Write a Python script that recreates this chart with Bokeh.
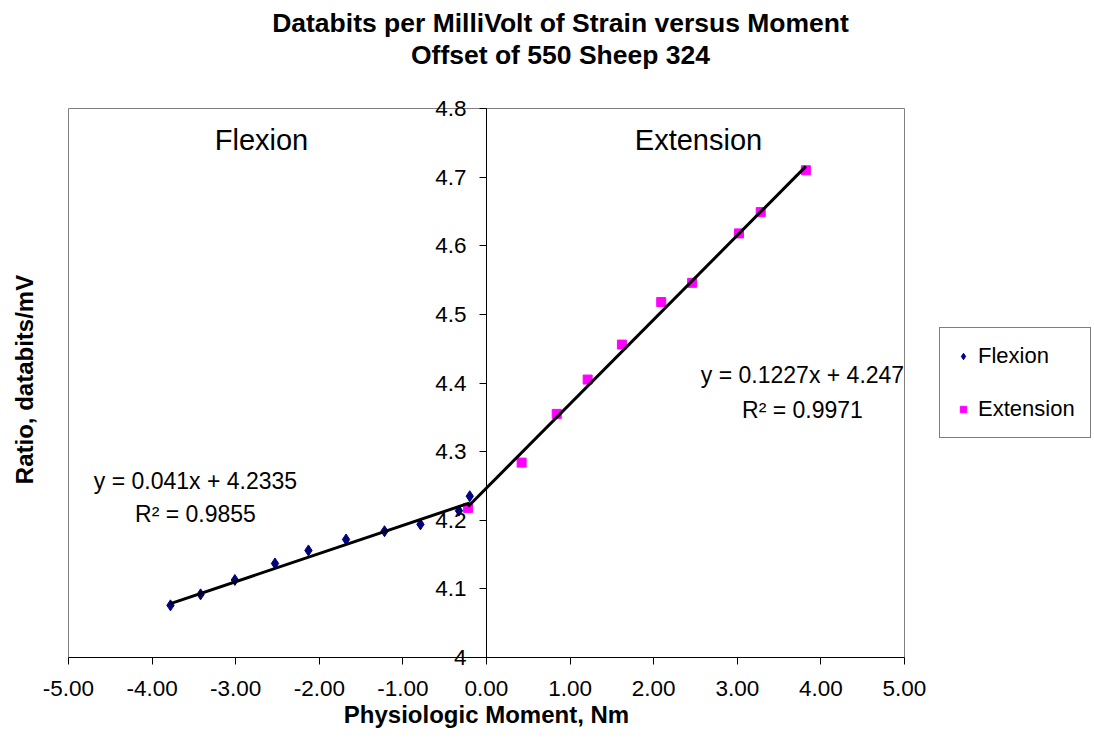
import math
from bokeh.plotting import figure
from bokeh.models import (Range1d, FixedTicker, NumeralTickFormatter, CustomJSTickFormatter,
                          Label, Legend, LegendItem, ColumnDataSource)
from bokeh.embed import file_html
from bokeh.resources import INLINE

# ---- data ----
FLEX_X = [-3.78, -3.42, -3.01, -2.53, -2.13, -1.68, -1.22, -0.79, -0.33, -0.20]
FLEX_Y = [4.076, 4.092, 4.113, 4.137, 4.156, 4.172, 4.184, 4.194, 4.214, 4.235]
EXT_X = [-0.22, 0.42, 0.84, 1.21, 1.62, 2.09, 2.46, 3.02, 3.28, 3.82]
EXT_Y = [4.218, 4.284, 4.355, 4.405, 4.456, 4.518, 4.546, 4.618, 4.649, 4.710]
FLEX_FIT = [0.041, 4.2335]    # slope, intercept
EXT_FIT = [0.1227, 4.247]
X_TICKS = [-5, -4, -3, -2, -1, 0, 1, 2, 3, 4, 5]
Y_TICKS = [4.0, 4.1, 4.2, 4.3, 4.4, 4.5, 4.6, 4.7, 4.8]
TITLE_LINES = ["Databits per MilliVolt of Strain versus Moment", "Offset of 550 Sheep 324"]
X_LABEL = "Physiologic Moment, Nm"
Y_LABEL = "Ratio, databits/mV"
SERIES = ["Flexion", "Extension"]
FLEX_EQ = ["y = 0.041x + 4.2335", "R\u00b2 = 0.9855"]
EXT_EQ = ["y = 0.1227x + 4.247", "R\u00b2 = 0.9971"]

FONT = "Liberation Sans"

# ---- layout (pixels) ----
W, H = 1094, 752
PL, PR, PT, PB = 68, 904, 108, 657      # plot-area box inside the canvas
X0, X1 = X_TICKS[0], X_TICKS[-1]
Y0, Y1 = Y_TICKS[0], Y_TICKS[-1]
kx = (PR - PL) / (X1 - X0)
ky = (PB - PT) / (Y1 - Y0)
x_start = X0 - PL / kx
x_end = X1 + (W - PR) / kx
y_start = Y0 - (H - PB) / ky
y_end = Y1 + PT / ky


def dx(px):
    return X0 + (px - PL) / kx


def dy(py):
    return Y0 + (PB - py) / ky


p = figure(width=W, height=H, output_backend="svg", toolbar_location=None,
           x_range=Range1d(x_start, x_end), y_range=Range1d(y_start, y_end),
           min_border=0, min_border_left=0, min_border_right=0,
           min_border_top=0, min_border_bottom=0,
           background_fill_color="white", border_fill_color="white")
p.title.visible = False
p.xgrid.visible = False
p.ygrid.visible = False
p.outline_line_color = None

# grey plot-area border (left, top, right)
p.line([X0, X0, X1, X1], [Y0, Y1, Y1, Y0], line_color="#808080", line_width=1)

# x axis at y = 4.0
xa = p.xaxis[0]
xa.fixed_location = Y0
xa.bounds = (X0, X1)
xa.ticker = FixedTicker(ticks=X_TICKS)
xa.formatter = NumeralTickFormatter(format="0.00")
xa.major_tick_out = 7
xa.major_tick_in = 0
xa.minor_tick_line_color = None
xa.axis_line_color = "black"
xa.major_tick_line_color = "black"
xa.major_label_text_font = FONT
xa.major_label_text_font_size = "22.5px"
xa.major_label_text_color = "black"
xa.major_label_standoff = 16
xa.axis_label = X_LABEL
xa.axis_label_text_font = FONT
xa.axis_label_text_font_style = "bold"
xa.axis_label_text_font_size = "24px"
xa.axis_label_text_color = "black"
xa.axis_label_standoff = 2

# y axis crossing at x = 0
ya = p.yaxis[0]
ya.fixed_location = 0
ya.bounds = (Y0, Y1)
ya.ticker = FixedTicker(ticks=Y_TICKS)
ya.formatter = CustomJSTickFormatter(code=r"return tick.toFixed(1).replace(/\.0$/, '');")
ya.major_tick_out = 7
ya.major_tick_in = 0
ya.minor_tick_line_color = None
ya.axis_line_color = "black"
ya.major_tick_line_color = "black"
ya.major_label_text_font = FONT
ya.major_label_text_font_size = "22.5px"
ya.major_label_text_color = "black"
ya.major_label_standoff = 13

src_f = ColumnDataSource(dict(x=FLEX_X, y=FLEX_Y))
src_e = ColumnDataSource(dict(x=EXT_X, y=EXT_Y))
rf = p.scatter("x", "y", source=src_f, marker="diamond", size=11,
               fill_color="#000080", line_color="#000080")
re_ = p.scatter("x", "y", source=src_e, marker="square", size=9,
                fill_color="#FF00FF", line_color="#FF00FF")

for xs, fit in [(FLEX_X, FLEX_FIT), (EXT_X, EXT_FIT)]:
    a, b = min(xs), max(xs)
    p.line([a, b], [fit[0] * a + fit[1], fit[0] * b + fit[1]],
           line_color="black", line_width=3)

legend = Legend(items=[LegendItem(label=SERIES[0], renderers=[rf]),
                       LegendItem(label=SERIES[1], renderers=[re_])],
                location=(939, 314), padding=15, spacing=27, glyph_width=16, glyph_height=16,
                label_height=24, label_standoff=7, margin=0,
                label_text_font=FONT, label_text_font_size="22px", label_text_color="black",
                border_line_color="black", border_line_width=1,
                background_fill_color="white", background_fill_alpha=1)
p.add_layout(legend, "center")


def add_text(px, py, text, size, bold=False, angle=0.0):
    # (px, py): visual centre of the text in canvas pixels
    p.add_layout(Label(x=dx(px), y=dy(py), text=text, text_align="center",
                       text_baseline="middle", angle=angle,
                       text_font=FONT, text_font_size=size, text_color="black",
                       text_font_style="bold" if bold else "normal"))


# title lines
add_text(560, 22, TITLE_LINES[0], "26.5px", bold=True)
add_text(560, 54, TITLE_LINES[1], "26.5px", bold=True)
# y axis title
add_text(24, 379, Y_LABEL, "24px", bold=True, angle=math.pi / 2)
# region labels
add_text(261, 139, SERIES[0], "29px")
add_text(698, 139, SERIES[1], "29px")
# equations
add_text(195, 480, FLEX_EQ[0], "23px")
add_text(195, 513.5, FLEX_EQ[1], "23px")
add_text(802, 374, EXT_EQ[0], "23px")
add_text(802, 409.5, EXT_EQ[1], "23px")

open("out.html", "w").write(file_html(p, INLINE))
